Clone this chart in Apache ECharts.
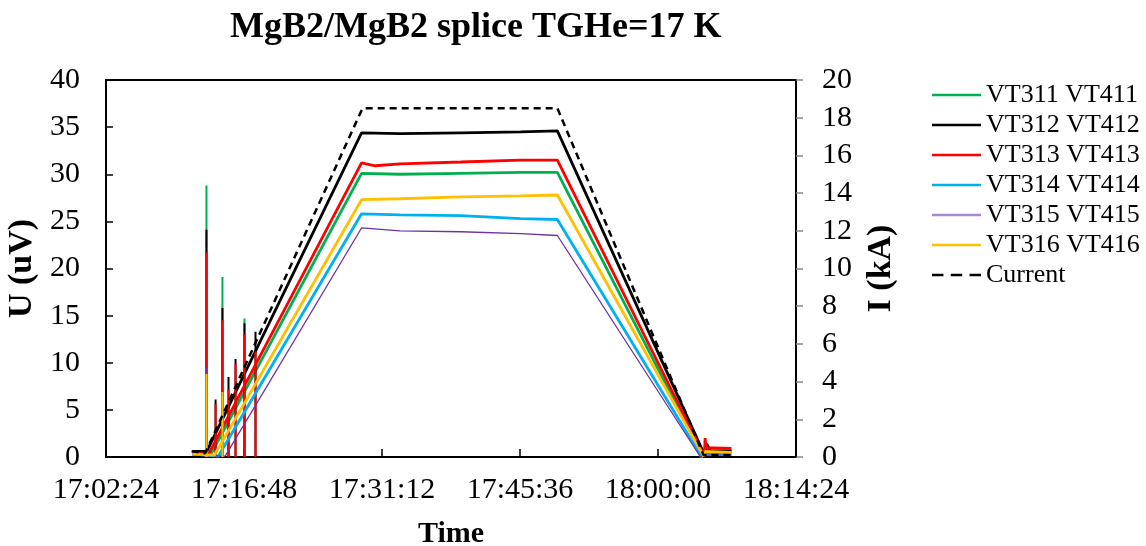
<!DOCTYPE html>
<html>
<head>
<meta charset="utf-8">
<script src="https://cdn.jsdelivr.net/npm/echarts@6/dist/echarts.min.js"></script>
<style>
  html, body { margin: 0; padding: 0; background: #fff; }
  #chart { width: 1146px; height: 546px; }
</style>
</head>
<body>
<div id="chart"></div>
<script>
// Splice voltage taps (uV) and transport current (kA) during a current ramp.
const xTicks = ['17:02:24', '17:16:48', '17:31:12', '17:45:36', '18:00:00', '18:14:24'];
const seriesNames = ['VT311 VT411', 'VT312 VT412', 'VT313 VT413', 'VT314 VT414', 'VT315 VT415', 'VT316 VT416', 'Current'];
const seriesColors = ['#00B050', '#000000', '#FF0000', '#00B0F0', '#7030A0', '#FFC000', '#000000'];

// Voltage profiles [time, uV]
const vt311 = [['17:11:26', 0.3], ['17:13:18', 0.2], ['17:29:04', 30.1], ['17:33:05', 30.0], ['17:39:25', 30.1], ['17:45:40', 30.2], ['17:49:30', 30.2], ['18:04:40', 0.1], ['18:04:50', 0.8], ['18:07:40', 0.7]];
const vt312 = [['17:11:26', 0.6], ['17:12:55', 0.6], ['17:29:04', 34.4], ['17:33:05', 34.3], ['17:39:25', 34.4], ['17:45:40', 34.5], ['17:49:30', 34.6], ['18:04:55', 0.1], ['18:05:05', 1.4], ['18:05:30', 0.6], ['18:07:40', 0.6]];
const vt313 = [['17:11:26', 0.4], ['17:13:06', 0.3], ['17:29:04', 31.2], ['17:30:30', 30.9], ['17:33:05', 31.1], ['17:39:25', 31.3], ['17:45:40', 31.5], ['17:49:30', 31.5], ['18:04:50', 0.1], ['18:04:55', 2.0], ['18:05:00', 1.0], ['18:07:40', 0.9]];
const vt314 = [['17:11:26', 0.3], ['17:14:08', 0.1], ['17:29:04', 25.8], ['17:33:05', 25.7], ['17:39:25', 25.6], ['17:45:40', 25.3], ['17:49:30', 25.2], ['18:04:33', 0.0], ['18:04:45', 0.3], ['18:07:40', 0.3]];
const vt315 = [['17:11:26', 0.2], ['17:14:50', 0.1], ['17:29:04', 24.3], ['17:33:05', 24.0], ['17:39:25', 23.9], ['17:45:40', 23.7], ['17:49:30', 23.5], ['18:04:26', 0.0], ['18:04:45', 0.2], ['18:07:40', 0.2]];
const vt316 = [['17:11:26', 0.3], ['17:13:43', 0.2], ['17:29:04', 27.3], ['17:33:05', 27.4], ['17:39:25', 27.6], ['17:45:40', 27.7], ['17:49:30', 27.8], ['18:04:45', 0.1], ['18:04:55', 0.6], ['18:07:40', 0.5]];

// Short noise spikes at the start of the ramp [time, peak uV]
const vt311Spikes = [['17:12:53', 28.8], ['17:14:33', 19.1], ['17:15:11', 3.5], ['17:16:51', 14.7]];
const vt312Spikes = [['17:12:53', 24.1], ['17:13:50', 6.1], ['17:14:33', 15.8], ['17:15:11', 8.5], ['17:15:55', 10.4], ['17:16:51', 14.2], ['17:18:00', 13.3]];
const vt313Spikes = [['17:12:53', 21.7], ['17:13:50', 5.6], ['17:14:33', 14.5], ['17:15:11', 7.2], ['17:15:55', 9.9], ['17:16:51', 13.0], ['17:18:00', 11.2]];
const vt314Spikes = [['17:12:53', 9.4], ['17:14:33', 6.5]];
const vt315Spikes = [['17:12:53', 9.6], ['17:14:33', 6.8]];
const vt316Spikes = [['17:12:53', 8.8], ['17:14:33', 6.9]];

// Transport current [time, kA]
const current = [['17:11:20', 0.3], ['17:12:45', 0.2], ['17:29:10', 18.5], ['17:49:30', 18.5], ['18:04:45', 0.1], ['18:07:40', 0.1]];

const FONT = "'Liberation Serif', 'Times New Roman', serif";

function toSec(s) {
  const p = s.split(':').map(Number);
  return p[0] * 3600 + p[1] * 60 + p[2];
}
function fmt(sec) {
  const h = Math.floor(sec / 3600), m = Math.floor((sec % 3600) / 60), s = Math.round(sec % 60);
  return h + ':' + String(m).padStart(2, '0') + ':' + String(s).padStart(2, '0');
}
const pts = arr => arr.map(d => [toSec(d[0]), d[1]]);
// each spike is a vertical stroke from zero to its peak
const spikePts = arr => {
  const out = [];
  arr.forEach(d => { const t = toSec(d[0]); out.push([t, 0], [t, d[1]], [t, '-']); });
  return out;
};

const xMin = toSec(xTicks[0]);
const xMax = toSec(xTicks[xTicks.length - 1]);
const xStep = toSec(xTicks[1]) - xMin;

const profiles = [vt311, vt312, vt313, vt314, vt315, vt316];
const spikes = [vt311Spikes, vt312Spikes, vt313Spikes, vt314Spikes, vt315Spikes, vt316Spikes];
const widths = [2.8, 2.8, 2.8, 2.8, 1.3, 2.8];

const series = [];
profiles.forEach((p, i) => {
  series.push({
    name: seriesNames[i], type: 'line', yAxisIndex: 0, symbol: 'none', animation: false,
    data: pts(p), lineStyle: { color: seriesColors[i], width: widths[i] }, itemStyle: { color: seriesColors[i] }
  });
  series.push({
    name: seriesNames[i], type: 'line', yAxisIndex: 0, symbol: 'none', animation: false, connectNulls: false,
    data: spikePts(spikes[i]), lineStyle: { color: seriesColors[i], width: 2 }, itemStyle: { color: seriesColors[i] }
  });
});
series.push({
  name: seriesNames[6], type: 'line', yAxisIndex: 1, symbol: 'none', animation: false,
  data: pts(current), lineStyle: { color: '#000', width: 2.5, type: [7, 5] }, itemStyle: { color: '#000' }
});

// legend keys: plain strokes, dashed for the current
const solidKey = 'path://M0,0H49V3H0Z';
const dashedKey = 'path://M0,0H11V3H0Z M18,0H29V3H18Z M36,0H47V3H36Z';
const legendData = seriesNames.map((n, i) => ({
  name: n,
  icon: i === 6 ? dashedKey : solidKey,
  itemStyle: { color: i === 4 ? '#a78bca' : seriesColors[i] }
}));

const nameStyle = size => ({ fontFamily: FONT, fontSize: size, fontWeight: 'bold', color: '#000' });

const chart = echarts.init(document.getElementById('chart'), null, { renderer: 'canvas' });
chart.setOption({
  backgroundColor: '#fff',
  animation: false,
  title: {
    text: 'MgB2/MgB2 splice TGHe=17 K',
    left: 225, top: 5,
    textStyle: { fontFamily: FONT, fontSize: 36, fontWeight: 'bold', color: '#000' }
  },
  legend: {
    orient: 'vertical', left: 927, top: 77,
    itemWidth: 49, itemHeight: 2.5, itemGap: 4, symbolKeepAspect: false,
    data: legendData,
    textStyle: { fontFamily: FONT, fontSize: 26, color: '#000', lineHeight: 26 }
  },
  grid: {
    left: 106, right: 350, top: 80, bottom: 89,
    show: true, borderColor: '#000', borderWidth: 2,
    containLabel: false, outerBoundsMode: 'none'
  },
  xAxis: {
    type: 'value', min: xMin, max: xMax, interval: xStep,
    name: 'Time', nameLocation: 'middle', nameGap: 62,
    nameTextStyle: nameStyle(30),
    axisLine: { lineStyle: { color: '#000', width: 2 } },
    axisTick: { inside: true, length: 8, lineStyle: { color: '#000', width: 1.5 } },
    axisLabel: { fontFamily: FONT, fontSize: 30, color: '#000', margin: 18, formatter: v => fmt(v) },
    splitLine: { show: false }
  },
  yAxis: [
    {
      type: 'value', min: 0, max: 40, interval: 5,
      name: 'U (uV)', nameLocation: 'middle', nameGap: 42,
      nameTextStyle: nameStyle(34),
      axisLine: { show: true, lineStyle: { color: '#000', width: 2 } },
      axisTick: { show: true, inside: true, length: 7, lineStyle: { color: '#000', width: 1.5 } },
      axisLabel: { fontFamily: FONT, fontSize: 30, color: '#000', margin: 26 },
      splitLine: { show: false }
    },
    {
      type: 'value', min: 0, max: 20, interval: 2, position: 'right',
      name: 'I (kA)', nameLocation: 'middle', nameGap: 68,
      nameTextStyle: nameStyle(34),
      axisLine: { show: true, lineStyle: { color: '#000', width: 2 } },
      axisTick: { show: true, inside: false, length: 7, lineStyle: { color: '#888', width: 1.5 } },
      axisLabel: { fontFamily: FONT, fontSize: 30, color: '#000', margin: 26 },
      splitLine: { show: false }
    }
  ],
  series: series
});
</script>
</body>
</html>
